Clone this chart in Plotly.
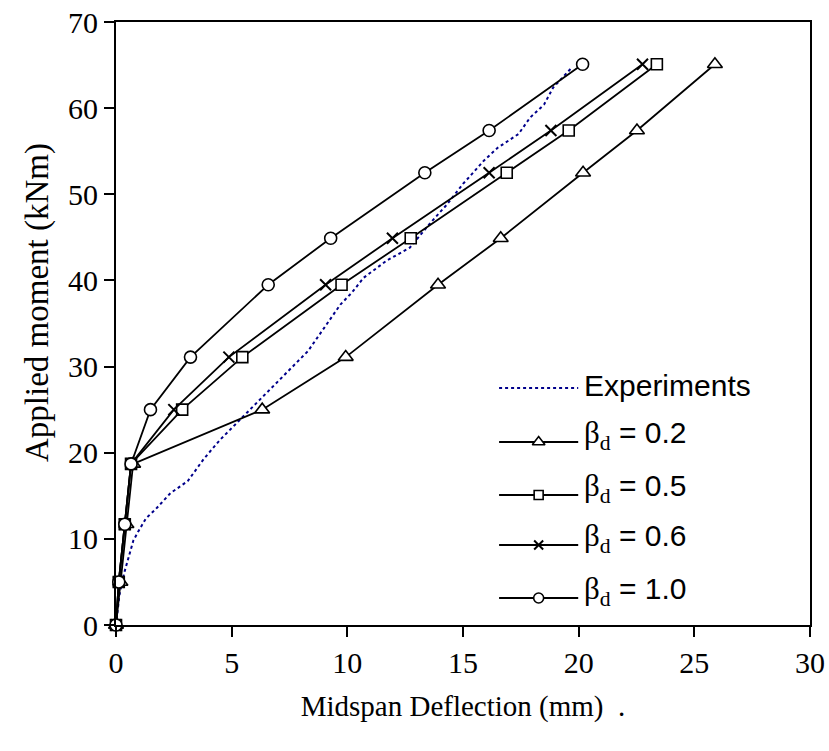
import plotly.graph_objects as go

# Applied moment levels (kNm) shared by the analytical curves
moment = [0, 5.0, 11.7, 18.7, 25.0, 31.1, 39.5, 44.9, 52.5, 57.4, 65.1]

# Midspan deflection (mm) for each beta_d value
defl_b02 = [0, 0.19, 0.45, 0.74, 6.32, 9.93, 13.92, 16.63, 20.19, 22.52, 25.89]
defl_b05 = [0, 0.12, 0.38, 0.65, 2.86, 5.46, 9.75, 12.74, 16.89, 19.57, 23.38]
defl_b06 = [0, 0.12, 0.38, 0.65, 2.50, 4.88, 9.06, 11.95, 16.13, 18.80, 22.76]
defl_b10 = [0, 0.12, 0.38, 0.65, 1.49, 3.22, 6.58, 9.28, 13.35, 16.13, 20.17]

# Experimental load-deflection record
exp_defl = [0, 0.15, 0.35, 0.55, 0.75, 0.95, 1.3, 1.7, 2.35, 3.1, 3.8, 4.5,
            5.2, 6.0, 6.7, 7.5, 8.3, 9.0, 9.7, 10.2, 10.7, 11.7, 12.7, 13.6,
            14.3, 15.0, 15.9, 16.5, 17.4, 17.9, 18.5, 18.9, 19.4, 19.7]
exp_moment = [0, 3.5, 6.0, 8.0, 9.8, 10.8, 12.4, 13.4, 15.3, 16.7, 19.3, 21.5,
              23.4, 25.6, 27.5, 29.6, 31.8, 34.5, 37.2, 38.6, 40.3, 42.3, 43.8,
              46.7, 48.8, 51.2, 53.9, 55.4, 57.0, 58.9, 60.4, 62.4, 63.9, 64.7]

x_ticks = [0, 5, 10, 15, 20, 25, 30]
y_ticks = [0, 10, 20, 30, 40, 50, 60, 70]

series = [
    ("0.2", defl_b02, "triangle-up", 13),
    ("0.5", defl_b05, "square", 11),
    ("0.6", defl_b06, "x-thin-open", 11),
    ("1.0", defl_b10, "circle", 12),
]

SERIF = "Liberation Serif"
SANS = "Liberation Sans"
NAVY = "#00008B"


def marker_style(symbol, size):
    if symbol == "x-thin-open":
        return dict(symbol=symbol, size=size, color="black",
                    line=dict(color="black", width=2))
    return dict(symbol=symbol, size=size, color="white",
                line=dict(color="black", width=1.6))


fig = go.Figure()

fig.add_trace(go.Scatter(
    x=exp_defl, y=exp_moment, mode="lines", showlegend=False,
    line=dict(color=NAVY, width=2, dash="dot"), cliponaxis=False))

for label, defl, symbol, size in series:
    fig.add_trace(go.Scatter(
        x=defl, y=moment, mode="lines+markers", showlegend=False,
        line=dict(color="black", width=1.8),
        marker=marker_style(symbol, size), cliponaxis=False))

# Key drawn on an overlay axis spanning the plot area (0..1 in both directions)
key_x0, key_x1, key_xm, key_text_x = 0.552, 0.666, 0.609, 0.672
key_rows = [0.393, 0.3035, 0.2156, 0.1327, 0.0448]

fig.add_trace(go.Scatter(
    x=[key_x0, key_x1], y=[key_rows[0]] * 2, mode="lines", showlegend=False,
    xaxis="x2", yaxis="y2", line=dict(color=NAVY, width=2, dash="dot")))
fig.add_annotation(x=key_text_x, y=key_rows[0] + 0.004, xref="paper", yref="paper",
                   text="Experiments", showarrow=False, xanchor="left",
                   yanchor="middle", font=dict(family=SANS, size=30, color="black"))

for (label, defl, symbol, size), row in zip(series, key_rows[1:]):
    fig.add_trace(go.Scatter(
        x=[key_x0, key_x1], y=[row, row], mode="lines", showlegend=False,
        xaxis="x2", yaxis="y2", line=dict(color="black", width=1.8)))
    fig.add_trace(go.Scatter(
        x=[key_xm], y=[row], mode="markers", showlegend=False,
        xaxis="x2", yaxis="y2", marker=marker_style(symbol, size - 2)))
    fig.add_annotation(
        x=key_text_x, y=row + 0.012, xref="paper", yref="paper", showarrow=False,
        xanchor="left", yanchor="middle",
        text=(f'<span style="font-family:{SERIF};font-size:31px">'
              f'β<sub>d</sub></span> = {label}'),
        font=dict(family=SANS, size=30, color="black"))

# Vertical axis title, set a little above the plot's midpoint
fig.add_annotation(x=-0.113, y=0.535, xref="paper", yref="paper",
                   text="Applied moment (kNm)", textangle=-90, showarrow=False,
                   xanchor="center", yanchor="middle",
                   font=dict(family=SERIF, size=33, color="black"))

tick_font = dict(family=SERIF, size=30, color="black")
axis_common = dict(
    showgrid=False, zeroline=False, showline=True, mirror=True,
    linecolor="black", linewidth=2, ticks="outside", ticklen=10,
    tickwidth=2, tickcolor="black", automargin=False)

fig.update_layout(
    width=829, height=751,
    margin=dict(l=116, r=19, t=22, b=126),
    paper_bgcolor="white", plot_bgcolor="white",
    font=dict(family=SERIF, size=28, color="black"),
    xaxis=dict(range=[0, 30], tickvals=x_ticks, tickfont=tick_font, **axis_common,
               title=dict(text="Midspan Deflection (mm)  .", standoff=18,
                          font=dict(family=SERIF, size=29, color="black"))),
    yaxis=dict(range=[0, 70], tickvals=y_ticks, tickfont=tick_font, **axis_common),
    xaxis2=dict(overlaying="x", range=[0, 1], visible=False, automargin=False),
    yaxis2=dict(overlaying="y", range=[0, 1], visible=False, automargin=False),
    showlegend=False,
)

fig.write_html("out.html")
